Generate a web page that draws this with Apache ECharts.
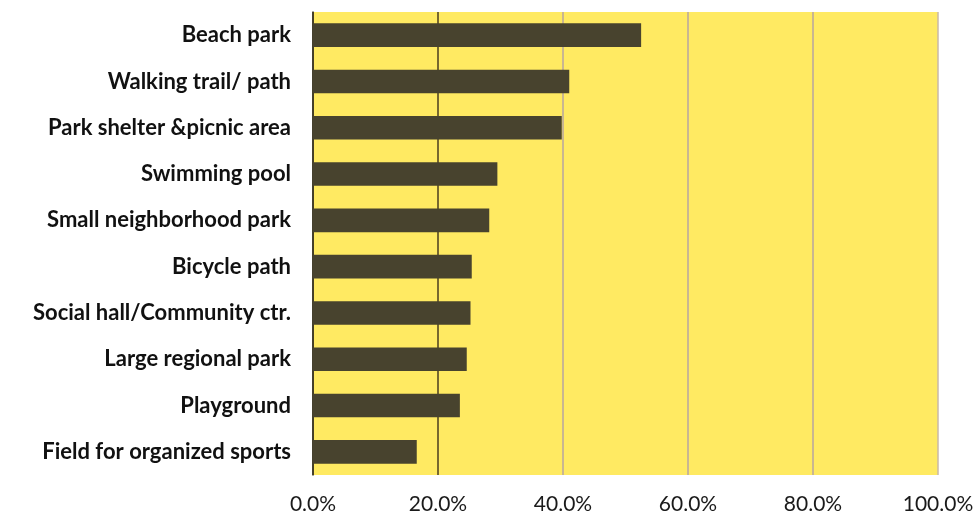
<!DOCTYPE html>
<html>
<head>
<meta charset="utf-8">
<script src="https://cdn.jsdelivr.net/npm/echarts@6/dist/echarts.min.js"></script>
<style>
  html, body { margin: 0; padding: 0; background: #fff; }
  #chart { width: 979px; height: 520px; }
</style>
</head>
<body>
<div id="chart"></div>
<script>
// facility categories, top to bottom
const categories = [
    'Beach park',
    'Walking trail/ path',
    'Park shelter &picnic area',
    'Swimming pool',
    'Small neighborhood park',
    'Bicycle path',
    'Social hall/Community ctr.',
    'Large regional park',
    'Playground',
    'Field for organized sports'
];
// share of respondents, percent
const shares = [52.5, 41.0, 39.8, 29.5, 28.2, 25.4, 25.2, 24.6, 23.5, 16.6];
const tickValues = [0, 20, 40, 60, 80, 100];

const myChart = echarts.init(document.getElementById('chart'));

const option = {
    animation: false,
    grid: {
        left: 313,
        right: 41,
        top: 12,
        bottom: 45,
        backgroundColor: '#ffea62',
        show: true,
        borderWidth: 0
    },
    xAxis: {
        type: 'value',
        min: tickValues[0],
        max: tickValues[tickValues.length - 1],
        interval: 20,
        axisLine: { show: false },
        axisTick: { show: false },
        axisLabel: {
            formatter: v => v.toFixed(1) + '%',
            color: '#1a1a1a',
            fontFamily: 'Lato',
            fontSize: 21,
            margin: 19
        },
        splitLine: {
            show: true,
            lineStyle: {
                color: ['#3a3420', '#4a3d1e', '#b7a4a2', '#b7a4a2', '#b7a4a2', '#c9b9a8'],
                width: 1.5
            }
        }
    },
    yAxis: {
        type: 'category',
        data: categories,
        inverse: true,
        axisLine: { show: true, lineStyle: { color: '#3a3420', width: 1.5 } },
        axisTick: { show: false },
        axisLabel: {
            color: '#111',
            fontFamily: 'Lato',
            fontWeight: 'bold',
            fontSize: 22,
            margin: 22
        }
    },
    series: [{
        type: 'bar',
        data: shares,
        barWidth: '51%',
        itemStyle: { color: '#48432e' }
    }]
};

myChart.setOption(option, true);
</script>
</body>
</html>
